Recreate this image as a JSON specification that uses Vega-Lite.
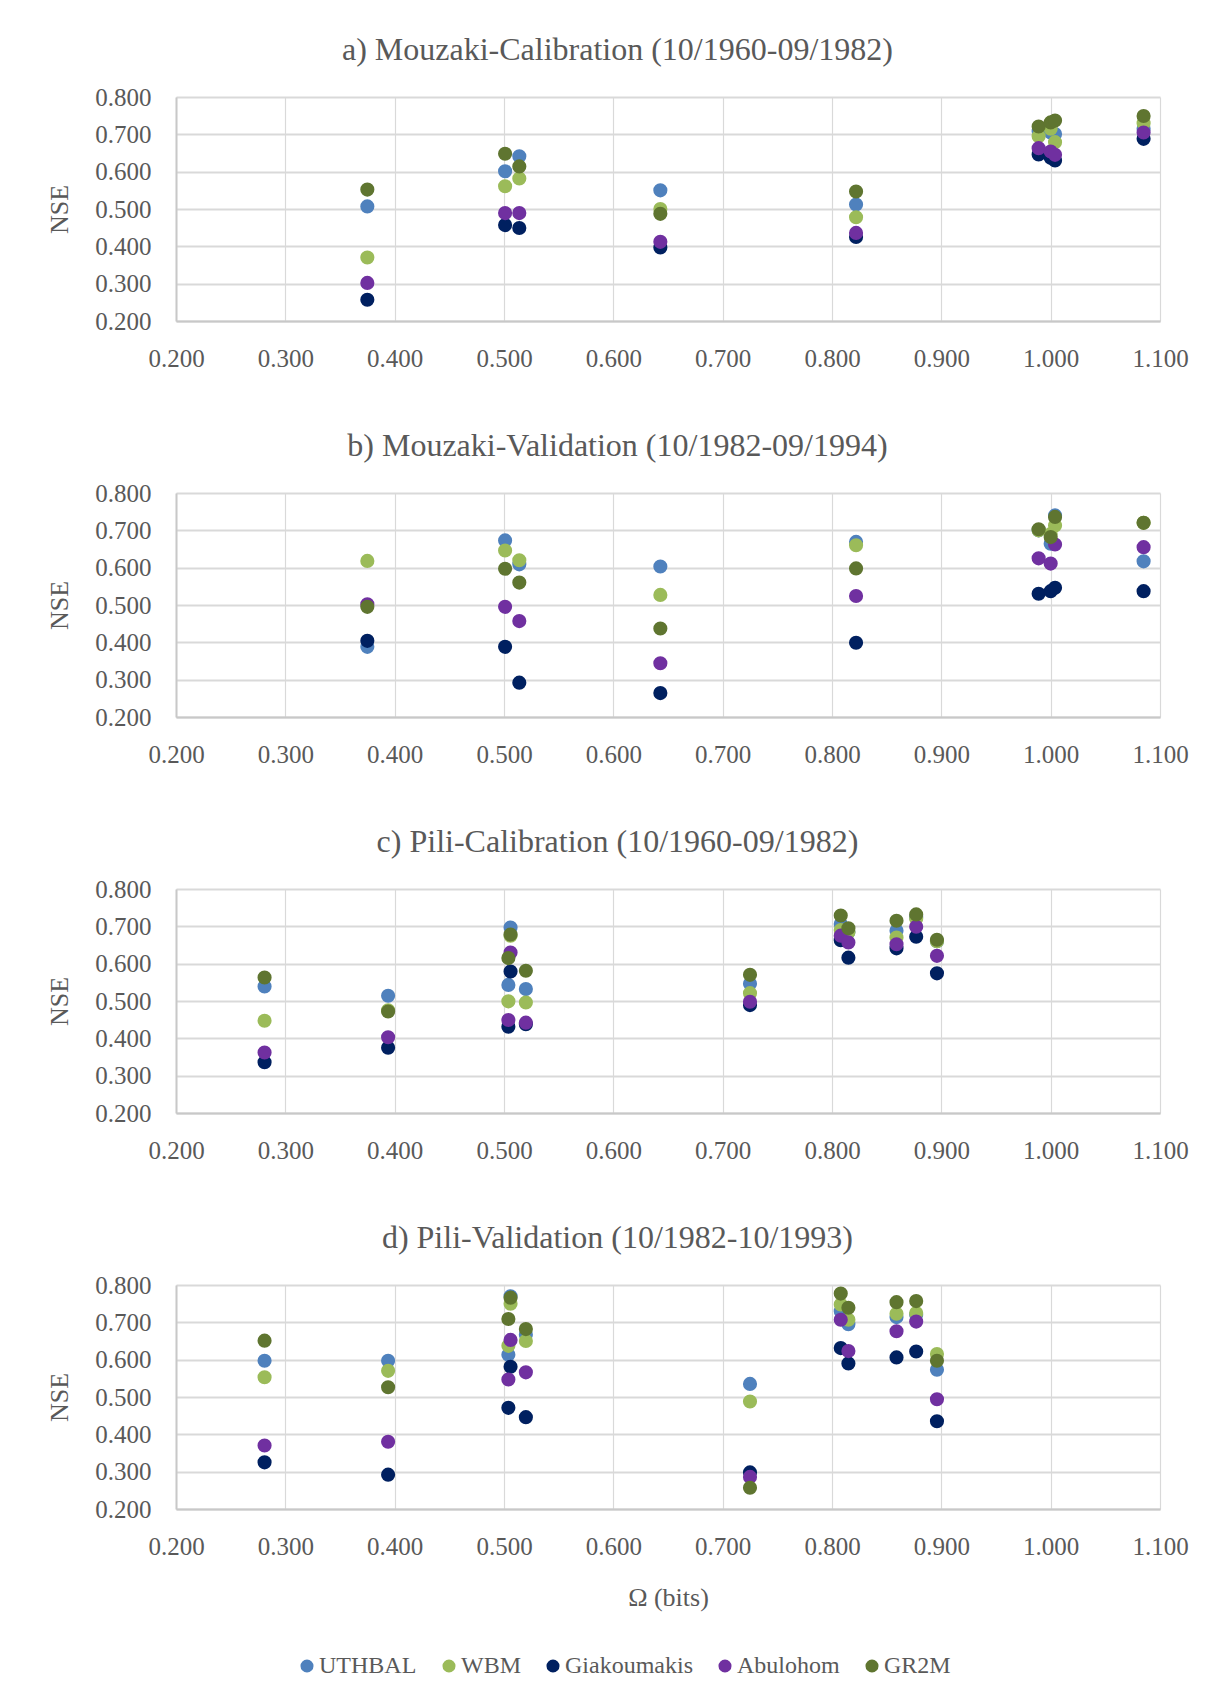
{
  "$schema": "https://vega.github.io/schema/vega-lite/v6.json",
  "background": "white",
  "padding": {"left": 46, "top": 34, "right": 5, "bottom": 5},
  "spacing": 59,
  "datasets": {
    "a": [
      {"omega":0.375,"model":"UTHBAL","nse":0.507},{"omega":0.501,"model":"UTHBAL","nse":0.601},{"omega":0.514,"model":"UTHBAL","nse":0.641},{"omega":0.643,"model":"UTHBAL","nse":0.550},{"omega":0.822,"model":"UTHBAL","nse":0.512},{"omega":0.989,"model":"UTHBAL","nse":0.708},{"omega":1.000,"model":"UTHBAL","nse":0.705},{"omega":1.004,"model":"UTHBAL","nse":0.701},{"omega":1.085,"model":"UTHBAL","nse":0.715},
      {"omega":0.375,"model":"WBM","nse":0.370},{"omega":0.501,"model":"WBM","nse":0.561},{"omega":0.514,"model":"WBM","nse":0.582},{"omega":0.643,"model":"WBM","nse":0.500},{"omega":0.822,"model":"WBM","nse":0.478},{"omega":0.989,"model":"WBM","nse":0.695},{"omega":1.000,"model":"WBM","nse":0.715},{"omega":1.004,"model":"WBM","nse":0.679},{"omega":1.085,"model":"WBM","nse":0.730},
      {"omega":0.375,"model":"Giakoumakis","nse":0.257},{"omega":0.501,"model":"Giakoumakis","nse":0.457},{"omega":0.514,"model":"Giakoumakis","nse":0.449},{"omega":0.643,"model":"Giakoumakis","nse":0.397},{"omega":0.822,"model":"Giakoumakis","nse":0.425},{"omega":0.989,"model":"Giakoumakis","nse":0.646},{"omega":1.000,"model":"Giakoumakis","nse":0.637},{"omega":1.004,"model":"Giakoumakis","nse":0.630},{"omega":1.085,"model":"Giakoumakis","nse":0.688},
      {"omega":0.375,"model":"Abulohom","nse":0.302},{"omega":0.501,"model":"Abulohom","nse":0.489},{"omega":0.514,"model":"Abulohom","nse":0.489},{"omega":0.643,"model":"Abulohom","nse":0.412},{"omega":0.822,"model":"Abulohom","nse":0.436},{"omega":0.989,"model":"Abulohom","nse":0.663},{"omega":1.000,"model":"Abulohom","nse":0.654},{"omega":1.004,"model":"Abulohom","nse":0.645},{"omega":1.085,"model":"Abulohom","nse":0.705},
      {"omega":0.375,"model":"GR2M","nse":0.552},{"omega":0.501,"model":"GR2M","nse":0.648},{"omega":0.514,"model":"GR2M","nse":0.614},{"omega":0.643,"model":"GR2M","nse":0.487},{"omega":0.822,"model":"GR2M","nse":0.547},{"omega":0.989,"model":"GR2M","nse":0.721},{"omega":1.000,"model":"GR2M","nse":0.732},{"omega":1.004,"model":"GR2M","nse":0.737},{"omega":1.085,"model":"GR2M","nse":0.749}
    ],
    "b": [
      {"omega":0.375,"model":"UTHBAL","nse":0.388},{"omega":0.501,"model":"UTHBAL","nse":0.673},{"omega":0.514,"model":"UTHBAL","nse":0.609},{"omega":0.643,"model":"UTHBAL","nse":0.603},{"omega":0.822,"model":"UTHBAL","nse":0.669},{"omega":0.989,"model":"UTHBAL","nse":0.700},{"omega":1.000,"model":"UTHBAL","nse":0.664},{"omega":1.004,"model":"UTHBAL","nse":0.740},{"omega":1.085,"model":"UTHBAL","nse":0.617},
      {"omega":0.375,"model":"WBM","nse":0.618},{"omega":0.501,"model":"WBM","nse":0.646},{"omega":0.514,"model":"WBM","nse":0.620},{"omega":0.643,"model":"WBM","nse":0.527},{"omega":0.822,"model":"WBM","nse":0.660},{"omega":0.989,"model":"WBM","nse":0.700},{"omega":1.000,"model":"WBM","nse":0.690},{"omega":1.004,"model":"WBM","nse":0.713},{"omega":1.085,"model":"WBM","nse":0.720},
      {"omega":0.375,"model":"Giakoumakis","nse":0.404},{"omega":0.501,"model":"Giakoumakis","nse":0.388},{"omega":0.514,"model":"Giakoumakis","nse":0.292},{"omega":0.643,"model":"Giakoumakis","nse":0.264},{"omega":0.822,"model":"Giakoumakis","nse":0.399},{"omega":0.989,"model":"Giakoumakis","nse":0.530},{"omega":1.000,"model":"Giakoumakis","nse":0.537},{"omega":1.004,"model":"Giakoumakis","nse":0.546},{"omega":1.085,"model":"Giakoumakis","nse":0.537},
      {"omega":0.375,"model":"Abulohom","nse":0.502},{"omega":0.501,"model":"Abulohom","nse":0.495},{"omega":0.514,"model":"Abulohom","nse":0.457},{"omega":0.643,"model":"Abulohom","nse":0.344},{"omega":0.822,"model":"Abulohom","nse":0.524},{"omega":0.989,"model":"Abulohom","nse":0.625},{"omega":1.000,"model":"Abulohom","nse":0.611},{"omega":1.004,"model":"Abulohom","nse":0.662},{"omega":1.085,"model":"Abulohom","nse":0.655},
      {"omega":0.375,"model":"GR2M","nse":0.495},{"omega":0.501,"model":"GR2M","nse":0.597},{"omega":0.514,"model":"GR2M","nse":0.560},{"omega":0.643,"model":"GR2M","nse":0.437},{"omega":0.822,"model":"GR2M","nse":0.598},{"omega":0.989,"model":"GR2M","nse":0.703},{"omega":1.000,"model":"GR2M","nse":0.682},{"omega":1.004,"model":"GR2M","nse":0.736},{"omega":1.085,"model":"GR2M","nse":0.720}
    ],
    "c": [
      {"omega":0.281,"model":"UTHBAL","nse":0.539},{"omega":0.394,"model":"UTHBAL","nse":0.514},{"omega":0.504,"model":"UTHBAL","nse":0.543},{"omega":0.506,"model":"UTHBAL","nse":0.697},{"omega":0.520,"model":"UTHBAL","nse":0.532},{"omega":0.725,"model":"UTHBAL","nse":0.546},{"omega":0.808,"model":"UTHBAL","nse":0.706},{"omega":0.815,"model":"UTHBAL","nse":0.685},{"omega":0.859,"model":"UTHBAL","nse":0.688},{"omega":0.877,"model":"UTHBAL","nse":0.724},{"omega":0.896,"model":"UTHBAL","nse":0.660},
      {"omega":0.281,"model":"WBM","nse":0.447},{"omega":0.394,"model":"WBM","nse":0.475},{"omega":0.504,"model":"WBM","nse":0.499},{"omega":0.506,"model":"WBM","nse":0.675},{"omega":0.520,"model":"WBM","nse":0.496},{"omega":0.725,"model":"WBM","nse":0.521},{"omega":0.808,"model":"WBM","nse":0.690},{"omega":0.815,"model":"WBM","nse":0.684},{"omega":0.859,"model":"WBM","nse":0.670},{"omega":0.877,"model":"WBM","nse":0.720},{"omega":0.896,"model":"WBM","nse":0.660},
      {"omega":0.281,"model":"Giakoumakis","nse":0.336},{"omega":0.394,"model":"Giakoumakis","nse":0.375},{"omega":0.504,"model":"Giakoumakis","nse":0.431},{"omega":0.506,"model":"Giakoumakis","nse":0.579},{"omega":0.520,"model":"Giakoumakis","nse":0.438},{"omega":0.725,"model":"Giakoumakis","nse":0.489},{"omega":0.808,"model":"Giakoumakis","nse":0.663},{"omega":0.815,"model":"Giakoumakis","nse":0.616},{"omega":0.859,"model":"Giakoumakis","nse":0.641},{"omega":0.877,"model":"Giakoumakis","nse":0.672},{"omega":0.896,"model":"Giakoumakis","nse":0.574},
      {"omega":0.281,"model":"Abulohom","nse":0.362},{"omega":0.394,"model":"Abulohom","nse":0.403},{"omega":0.504,"model":"Abulohom","nse":0.449},{"omega":0.506,"model":"Abulohom","nse":0.630},{"omega":0.520,"model":"Abulohom","nse":0.442},{"omega":0.725,"model":"Abulohom","nse":0.498},{"omega":0.808,"model":"Abulohom","nse":0.675},{"omega":0.815,"model":"Abulohom","nse":0.657},{"omega":0.859,"model":"Abulohom","nse":0.652},{"omega":0.877,"model":"Abulohom","nse":0.699},{"omega":0.896,"model":"Abulohom","nse":0.621},
      {"omega":0.281,"model":"GR2M","nse":0.563},{"omega":0.394,"model":"GR2M","nse":0.472},{"omega":0.504,"model":"GR2M","nse":0.615},{"omega":0.506,"model":"GR2M","nse":0.678},{"omega":0.520,"model":"GR2M","nse":0.581},{"omega":0.725,"model":"GR2M","nse":0.570},{"omega":0.808,"model":"GR2M","nse":0.729},{"omega":0.815,"model":"GR2M","nse":0.695},{"omega":0.859,"model":"GR2M","nse":0.715},{"omega":0.877,"model":"GR2M","nse":0.732},{"omega":0.896,"model":"GR2M","nse":0.664}
    ],
    "d": [
      {"omega":0.281,"model":"UTHBAL","nse":0.597},{"omega":0.394,"model":"UTHBAL","nse":0.597},{"omega":0.504,"model":"UTHBAL","nse":0.613},{"omega":0.506,"model":"UTHBAL","nse":0.770},{"omega":0.520,"model":"UTHBAL","nse":0.667},{"omega":0.725,"model":"UTHBAL","nse":0.535},{"omega":0.808,"model":"UTHBAL","nse":0.730},{"omega":0.815,"model":"UTHBAL","nse":0.695},{"omega":0.859,"model":"UTHBAL","nse":0.714},{"omega":0.877,"model":"UTHBAL","nse":0.720},{"omega":0.896,"model":"UTHBAL","nse":0.573},
      {"omega":0.281,"model":"WBM","nse":0.553},{"omega":0.394,"model":"WBM","nse":0.570},{"omega":0.504,"model":"WBM","nse":0.637},{"omega":0.506,"model":"WBM","nse":0.750},{"omega":0.520,"model":"WBM","nse":0.650},{"omega":0.725,"model":"WBM","nse":0.488},{"omega":0.808,"model":"WBM","nse":0.748},{"omega":0.815,"model":"WBM","nse":0.707},{"omega":0.859,"model":"WBM","nse":0.723},{"omega":0.877,"model":"WBM","nse":0.725},{"omega":0.896,"model":"WBM","nse":0.615},
      {"omega":0.281,"model":"Giakoumakis","nse":0.325},{"omega":0.394,"model":"Giakoumakis","nse":0.292},{"omega":0.504,"model":"Giakoumakis","nse":0.471},{"omega":0.506,"model":"Giakoumakis","nse":0.581},{"omega":0.520,"model":"Giakoumakis","nse":0.446},{"omega":0.725,"model":"Giakoumakis","nse":0.298},{"omega":0.808,"model":"Giakoumakis","nse":0.631},{"omega":0.815,"model":"Giakoumakis","nse":0.590},{"omega":0.859,"model":"Giakoumakis","nse":0.606},{"omega":0.877,"model":"Giakoumakis","nse":0.622},{"omega":0.896,"model":"Giakoumakis","nse":0.435},
      {"omega":0.281,"model":"Abulohom","nse":0.370},{"omega":0.394,"model":"Abulohom","nse":0.380},{"omega":0.504,"model":"Abulohom","nse":0.547},{"omega":0.506,"model":"Abulohom","nse":0.653},{"omega":0.520,"model":"Abulohom","nse":0.566},{"omega":0.725,"model":"Abulohom","nse":0.286},{"omega":0.808,"model":"Abulohom","nse":0.707},{"omega":0.815,"model":"Abulohom","nse":0.623},{"omega":0.859,"model":"Abulohom","nse":0.676},{"omega":0.877,"model":"Abulohom","nse":0.702},{"omega":0.896,"model":"Abulohom","nse":0.494},
      {"omega":0.281,"model":"GR2M","nse":0.651},{"omega":0.394,"model":"GR2M","nse":0.526},{"omega":0.504,"model":"GR2M","nse":0.709},{"omega":0.506,"model":"GR2M","nse":0.766},{"omega":0.520,"model":"GR2M","nse":0.682},{"omega":0.725,"model":"GR2M","nse":0.257},{"omega":0.808,"model":"GR2M","nse":0.777},{"omega":0.815,"model":"GR2M","nse":0.739},{"omega":0.859,"model":"GR2M","nse":0.754},{"omega":0.877,"model":"GR2M","nse":0.757},{"omega":0.896,"model":"GR2M","nse":0.597}
    ]
  },
  "vconcat": [
    {
      "title": "a) Mouzaki-Calibration (10/1960-09/1982)",
      "width": 984, "height": 224,
      "data": {"name": "a"},
      "mark": {"type": "circle", "size": 200, "opacity": 1},
      "encoding": {
        "x": {"field": "omega", "type": "quantitative", "scale": {"domain": [0.2, 1.1], "nice": false, "zero": false}, "axis": {"title": null, "values": [0.2,0.3,0.4,0.5,0.6,0.7,0.8,0.9,1.0,1.1], "format": ".3f"}},
        "y": {"field": "nse", "type": "quantitative", "scale": {"domain": [0.2, 0.8], "nice": false, "zero": false}, "axis": {"title": "NSE", "values": [0.2,0.3,0.4,0.5,0.6,0.7,0.8], "format": ".3f"}},
        "color": {"field": "model", "type": "nominal", "scale": {"domain": ["UTHBAL","WBM","Giakoumakis","Abulohom","GR2M"], "range": ["#4F81BD","#9BBB59","#002060","#7030A0","#5F7530"]}, "legend": {"title": null, "orient": "none", "direction": "horizontal", "legendX": 119, "legendY": 1557}}
      }
    },
    {
      "title": "b) Mouzaki-Validation (10/1982-09/1994)",
      "width": 984, "height": 224,
      "data": {"name": "b"},
      "mark": {"type": "circle", "size": 200, "opacity": 1},
      "encoding": {
        "x": {"field": "omega", "type": "quantitative", "scale": {"domain": [0.2, 1.1], "nice": false, "zero": false}, "axis": {"title": null, "values": [0.2,0.3,0.4,0.5,0.6,0.7,0.8,0.9,1.0,1.1], "format": ".3f"}},
        "y": {"field": "nse", "type": "quantitative", "scale": {"domain": [0.2, 0.8], "nice": false, "zero": false}, "axis": {"title": "NSE", "values": [0.2,0.3,0.4,0.5,0.6,0.7,0.8], "format": ".3f"}},
        "color": {"field": "model", "type": "nominal", "scale": {"domain": ["UTHBAL","WBM","Giakoumakis","Abulohom","GR2M"], "range": ["#4F81BD","#9BBB59","#002060","#7030A0","#5F7530"]}, "legend": {"title": null, "orient": "none", "direction": "horizontal", "legendX": 119, "legendY": 1557}}
      }
    },
    {
      "title": "c) Pili-Calibration (10/1960-09/1982)",
      "width": 984, "height": 224,
      "data": {"name": "c"},
      "mark": {"type": "circle", "size": 200, "opacity": 1},
      "encoding": {
        "x": {"field": "omega", "type": "quantitative", "scale": {"domain": [0.2, 1.1], "nice": false, "zero": false}, "axis": {"title": null, "values": [0.2,0.3,0.4,0.5,0.6,0.7,0.8,0.9,1.0,1.1], "format": ".3f"}},
        "y": {"field": "nse", "type": "quantitative", "scale": {"domain": [0.2, 0.8], "nice": false, "zero": false}, "axis": {"title": "NSE", "values": [0.2,0.3,0.4,0.5,0.6,0.7,0.8], "format": ".3f"}},
        "color": {"field": "model", "type": "nominal", "scale": {"domain": ["UTHBAL","WBM","Giakoumakis","Abulohom","GR2M"], "range": ["#4F81BD","#9BBB59","#002060","#7030A0","#5F7530"]}, "legend": {"title": null, "orient": "none", "direction": "horizontal", "legendX": 119, "legendY": 1557}}
      }
    },
    {
      "title": "d) Pili-Validation (10/1982-10/1993)",
      "width": 984, "height": 224,
      "data": {"name": "d"},
      "mark": {"type": "circle", "size": 200, "opacity": 1},
      "encoding": {
        "x": {"field": "omega", "type": "quantitative", "scale": {"domain": [0.2, 1.1], "nice": false, "zero": false}, "axis": {"title": "Ω (bits)", "values": [0.2,0.3,0.4,0.5,0.6,0.7,0.8,0.9,1.0,1.1], "format": ".3f"}},
        "y": {"field": "nse", "type": "quantitative", "scale": {"domain": [0.2, 0.8], "nice": false, "zero": false}, "axis": {"title": "NSE", "values": [0.2,0.3,0.4,0.5,0.6,0.7,0.8], "format": ".3f"}},
        "color": {"field": "model", "type": "nominal", "scale": {"domain": ["UTHBAL","WBM","Giakoumakis","Abulohom","GR2M"], "range": ["#4F81BD","#9BBB59","#002060","#7030A0","#5F7530"]}, "legend": {"title": null, "orient": "none", "direction": "horizontal", "legendX": 119, "legendY": 1557}}
      }
    }
  ],
  "config": {
    "font": "Liberation Serif",
    "view": {"stroke": null},
    "title": {"font": "Liberation Serif", "fontSize": 32, "fontWeight": "normal", "color": "#595959", "offset": 18, "anchor": "middle", "frame": "bounds"},
    "axis": {"labelFont": "Liberation Serif", "labelFontSize": 25, "labelColor": "#595959", "titleFont": "Liberation Serif", "titleFontSize": 26, "titleFontWeight": "normal", "titleColor": "#595959", "ticks": false, "tickSize": 0, "gridColor": "#D9D9D9", "domainColor": "#C8C8C8", "domainWidth": 2, "labelFlush": false, "labelOverlap": false, "labelBound": false},
    "axisX": {"gridWidth": 1.2, "labelPadding": 25, "titlePadding": 25},
    "axisY": {"gridWidth": 2, "labelPadding": 25, "titlePadding": 22},
    "legend": {"symbolType": "circle", "symbolSize": 170, "symbolStrokeWidth": 0, "symbolOpacity": 1, "labelFont": "Liberation Serif", "labelFontSize": 24, "labelColor": "#595959", "labelOffset": 0, "columnPadding": 20}
  }
}
